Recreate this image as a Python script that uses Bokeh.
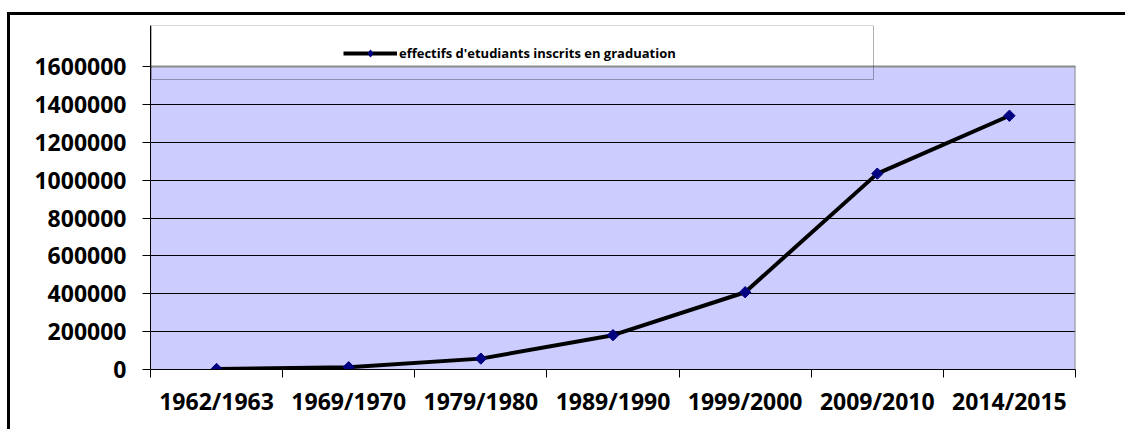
from bokeh.plotting import figure
from bokeh.models import (Range1d, FixedTicker, Legend, LegendItem, BoxAnnotation,
                          InlineStyleSheet)
from bokeh.embed import file_html
from bokeh.resources import INLINE

# ---- data ----
categories = ["1962/1963", "1969/1970", "1979/1980", "1989/1990",
              "1999/2000", "2009/2010", "2014/2015"]
students = [2725, 12243, 57445, 181350, 407995, 1034313, 1340000]
y_ticks = [0, 200000, 400000, 600000, 800000, 1000000, 1200000, 1400000, 1600000]
series_label = "effectifs d'etudiants inscrits en graduation"

FONT = "Open Sans"
PLOT_BG = "#CCCCFF"

n = len(categories)
y_max = y_ticks[-1]
xs = [i + 0.5 for i in range(n)]

# frame: x 150..1075, y 25..369 ; plot area (0..y_max) occupies 66..369
frame_h = 369 - 25
area_h = 369 - 66
y_top = y_max * frame_h / area_h

p = figure(width=1125, height=429, output_backend="svg", toolbar_location=None,
           x_range=Range1d(0, n), y_range=Range1d(0, y_top))
p.min_border_left = 150
p.min_border_right = 50
p.min_border_top = 25
p.min_border_bottom = 60
p.background_fill_color = "white"
p.border_fill_color = "white"
p.outline_line_color = None

# plot area fill (below the grid)
p.add_layout(BoxAnnotation(left=0, right=n, bottom=0, top=y_max,
                           fill_color=PLOT_BG, fill_alpha=1, line_color=None,
                           level="image"))

# grid
p.xgrid.grid_line_color = None
p.ygrid.grid_line_color = "black"
p.ygrid.grid_line_width = 1

# plot area border (top & right, grey)
p.segment(x0=[0, n], y0=[y_max, 0], x1=[n, n], y1=[y_max, y_max],
          line_color="#8C8C8C", line_width=2)

# y axis
p.yaxis.ticker = FixedTicker(ticks=y_ticks, minor_ticks=[])
p.yaxis.formatter.use_scientific = False
p.yaxis.axis_line_color = "black"
p.yaxis.axis_line_width = 1
p.yaxis.major_tick_in = 0
p.yaxis.major_tick_out = 8
p.yaxis.major_tick_line_color = "black"
p.yaxis.minor_tick_line_color = None
p.yaxis.major_label_standoff = 16
p.yaxis.major_label_text_font = FONT
p.yaxis.major_label_text_font_style = "bold"
p.yaxis.major_label_text_font_size = "23px"
p.yaxis.major_label_text_color = "black"

# x axis: labels at centres, ticks at boundaries (minor)
p.xaxis.ticker = FixedTicker(ticks=xs, minor_ticks=list(range(n + 1)))
p.xaxis.major_label_overrides = {x: c for x, c in zip(xs, categories)}
p.xaxis.axis_line_color = "black"
p.xaxis.axis_line_width = 1
p.xaxis.major_tick_line_color = None
p.xaxis.major_tick_in = 0
p.xaxis.major_tick_out = 0
p.xaxis.minor_tick_in = 0
p.xaxis.minor_tick_out = 8
p.xaxis.minor_tick_line_color = "black"
p.xaxis.major_label_standoff = 7
p.xaxis.major_label_text_font = FONT
p.xaxis.major_label_text_font_style = "bold"
p.xaxis.major_label_text_font_size = "23px"
p.xaxis.major_label_text_color = "black"

# series
line_r = p.line(xs, students, line_color="black", line_width=4)
# diamond used for the legend sample (hidden beneath the plotted markers)
legend_mark_r = p.scatter(xs, students, marker="diamond", size=8,
                          fill_color="#000080", line_color="#000080")
mark_r = p.scatter(xs, students, marker="square", angle=0.785398, size=8,
                   fill_color="#000080", line_color="#000080")

# legend box (outline only)
p.add_layout(BoxAnnotation(left=151, right=873, top=25, bottom=79,
                           left_units="canvas", right_units="canvas",
                           top_units="canvas", bottom_units="canvas",
                           fill_color=None, fill_alpha=0,
                           line_color="black", line_width=1, level="overlay"))

legend = Legend(items=[LegendItem(label=series_label, renderers=[line_r, legend_mark_r])],
                location=(193, 307), padding=0, margin=0,
                border_line_color=None, background_fill_alpha=0,
                glyph_width=54, glyph_height=18, label_height=18, label_standoff=2,
                label_text_font=FONT, label_text_font_style="bold",
                label_text_font_size="13px", label_text_color="black")
p.add_layout(legend, "center")

# outer chart border (left & top edges visible in the window)
p.stylesheets = [InlineStyleSheet(css="""
:host { position: relative; }
:host::after {
  content: ""; position: absolute; left: 7px; top: 12px; right: 0; bottom: 0;
  border-left: 3px solid black; border-top: 3px solid black;
  pointer-events: none; box-sizing: border-box;
}
""")]

open("out.html", "w").write(file_html(p, INLINE))
